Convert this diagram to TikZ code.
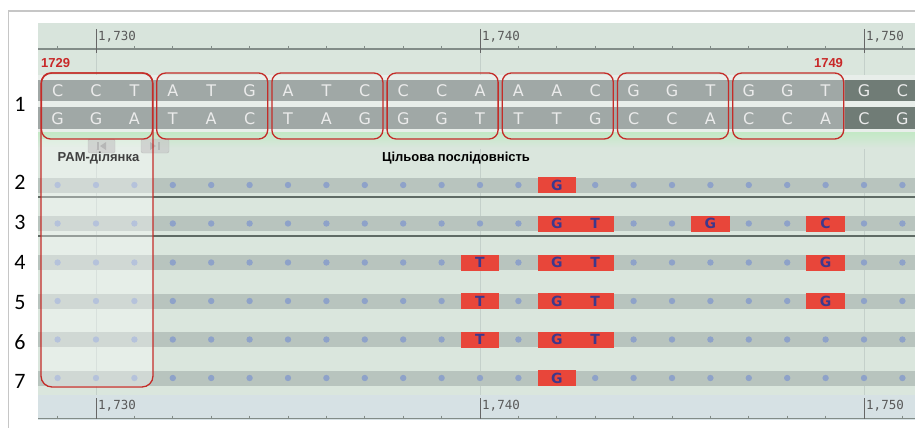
\documentclass[tikz,border=0pt]{standalone}
\usepackage{fontspec}
\setmainfont{Liberation Sans}
\newfontfamily\rowfont{Carlito}
\newfontfamily\rulerfont{DejaVu Sans Mono}
\newfontfamily\basefont{DejaVu Sans}
\definecolor{panelbg}{RGB}{218,230,221}
\definecolor{topbg}{RGB}{216,228,220}
\definecolor{botbg}{RGB}{214,225,228}
\definecolor{strandlt}{RGB}{160,168,166}
\definecolor{stranddk}{RGB}{112,124,118}
\definecolor{stripe}{RGB}{232,238,234}
\definecolor{rowband}{RGB}{184,196,190}
\definecolor{dotc}{RGB}{142,162,201}
\definecolor{boxred}{RGB}{196,44,40}
\definecolor{mmred}{RGB}{232,70,58}
\definecolor{mmtext}{RGB}{62,56,140}
\definecolor{sepline}{RGB}{95,107,101}
\definecolor{rulerline}{RGB}{130,140,136}
\definecolor{gridc}{RGB}{196,208,202}
\definecolor{labred}{RGB}{200,40,40}
\tikzset{
  baseltr/.style={font=\basefont\fontsize{16}{16}\selectfont, text=#1, inner sep=0pt},
  mm/.style={fill=mmred, minimum width=38.5pt, minimum height=16pt, inner sep=0pt,
    font=\basefont\bfseries\fontsize{14}{14}\selectfont, text=mmtext},
  rowlab/.style={font=\rowfont\fontsize{22}{22}\selectfont, inner sep=0pt},
  rulerlab/.style={font=\rulerfont\fontsize{12.5}{13}\selectfont, text=black!65, anchor=west, inner sep=0pt},
  boldlab/.style={font=\bfseries\fontsize{13}{13}\selectfont, inner sep=0pt},
  tripbox/.style={draw=boxred, line width=1.3pt, rounded corners=9pt},
  handle/.style={fill=gray!45, fill opacity=0.65, draw=gray!65, draw opacity=0.6, rounded corners=2pt}
}
\begin{document}
\begin{tikzpicture}[x=1pt,y=-1pt]
\useasboundingbox (0,0) rectangle (915,428);
\fill[white] (0,0) rectangle (915,428);
% outer frame
\draw[gray!45, line width=1.5pt] (8.5,428) -- (8.5,11) -- (915,11);
% panel
\fill[panelbg] (38.4,23) rectangle (915,395);
\fill[topbg] (38.4,23) rectangle (915,50);
\fill[botbg] (38.4,395) rectangle (915,420);
% vertical grid lines
\foreach \gx in {96,480,864}{
  \draw[gridc, line width=0.8pt] (\gx,50) -- (\gx,395);
}
% top ruler
\draw[rulerline, line width=1.5pt] (38.4,49) -- (915,49);
\foreach \c in {0,...,22}{
  \draw[rulerline, line width=0.8pt] ({57.6+\c*38.4},46) -- ({57.6+\c*38.4},49);
}
\foreach \gx/\t in {96/{1,730},480/{1,740},864/{1,750}}{
  \draw[black!60, line width=1pt] (\gx,29) -- (\gx,53);
  \node[rulerlab] (rt\gx) at (\gx+2,37) {\t};
}
% bottom ruler
\draw[rulerline, line width=1.5pt] (38.4,418.5) -- (915,418.5);
\foreach \c in {0,...,22}{
  \draw[rulerline, line width=0.8pt] ({57.6+\c*38.4},415.5) -- ({57.6+\c*38.4},418.5);
}
\foreach \gx/\t in {96/{1,730},480/{1,740},864/{1,750}}{
  \draw[black!60, line width=1pt] (\gx,398) -- (\gx,419);
  \node[rulerlab] (rb\gx) at (\gx+2,406) {\t};
}
% DNA strands
\fill[stripe] (38.4,75) rectangle (915,134);
\shade[top color=green!12!panelbg, bottom color=panelbg] (38.4,130) rectangle (915,148);
\fill[stripe] (38.4,129) rectangle (915,132);
\fill[strandlt] (38.4,80) rectangle (844.8,101);
\fill[strandlt] (38.4,107) rectangle (844.8,129);
\fill[stranddk] (844.8,80) rectangle (915,101);
\fill[stranddk] (844.8,107) rectangle (915,129);
\foreach \L [count=\i from 0] in {C,C,T,A,T,G,A,T,C,C,C,A,A,A,C,G,G,T,G,G,T,G,C}{
  \node[baseltr=black!8] (t\i) at ({57.6+\i*38.4},91) {\L};
}
\foreach \L [count=\i from 0] in {G,G,A,T,A,C,T,A,G,G,G,T,T,T,G,C,C,A,C,C,A,C,G}{
  \node[baseltr=black!8] (b\i) at ({57.6+\i*38.4},118.5) {\L};
}
% alignment rows
\foreach \y in {185,223.5,262.5,301,339.5,378}{
  \fill[rowband] (38.4,\y-7.5) rectangle (915,\y+7.5);
  \foreach \c in {0,...,22}{
    \fill[dotc] ({57.6+\c*38.4},\y) circle (3.2);
  }
}
\draw[sepline, line width=2pt] (38.4,197) -- (915,197);
\draw[sepline, line width=2pt] (38.4,235.5) -- (915,235.5);
% mismatches
\foreach \y/\c/\L [count=\i] in {185/13/G,
  223.5/13/G,223.5/14/T,223.5/17/G,223.5/20/C,
  262.5/11/T,262.5/13/G,262.5/14/T,262.5/20/G,
  301/11/T,301/13/G,301/14/T,301/20/G,
  339.5/11/T,339.5/13/G,339.5/14/T,
  378/13/G}{
  \node[mm] (m\i) at ({57.6+\c*38.4},\y) {\L};
}
% PAM overlay
\begin{scope}
  \clip (30,139) rectangle (170,400);
  \fill[white, opacity=0.35, rounded corners=10pt] (41,73) rectangle (153,387);
\end{scope}
% handles
\draw[handle] (88,139) rectangle (115,153);
\draw[handle] (141,139) rectangle (169,153);
\fill[gray!65, opacity=0.7] (97,142) rectangle (98.5,150);
\fill[gray!65, opacity=0.7] (106,142) -- (100,146) -- (106,150) -- cycle;
\fill[gray!65, opacity=0.7] (150,142) -- (156,146) -- (150,150) -- cycle;
\fill[gray!65, opacity=0.7] (158,142) rectangle (159.5,150);
% boxes
\draw[tripbox, rounded corners=11pt] (41,73) rectangle (153,387);
\foreach \k in {0,...,6}{
  \draw[tripbox] ({41.5+\k*115.2},73) rectangle ({152.5+\k*115.2},139);
}
% labels
\node[boldlab, text=labred, anchor=west] (l1729) at (41,63) {1729};
\node[boldlab, text=labred] (l1749) at (828.5,63) {1749};
\node[boldlab, text=black!75] (pam) at (98.5,158) {PAM-ділянка};
\node[boldlab, text=black] (tgt) at (456,158) {Цільова послідовність};
% row numbers
\foreach \n/\y in {1/104,2/182,3/222,4/262,5/303,6/342,7/381}{
  \node[rowlab] (r\n) at (20,\y) {\n};
}
\end{tikzpicture}
\end{document}
